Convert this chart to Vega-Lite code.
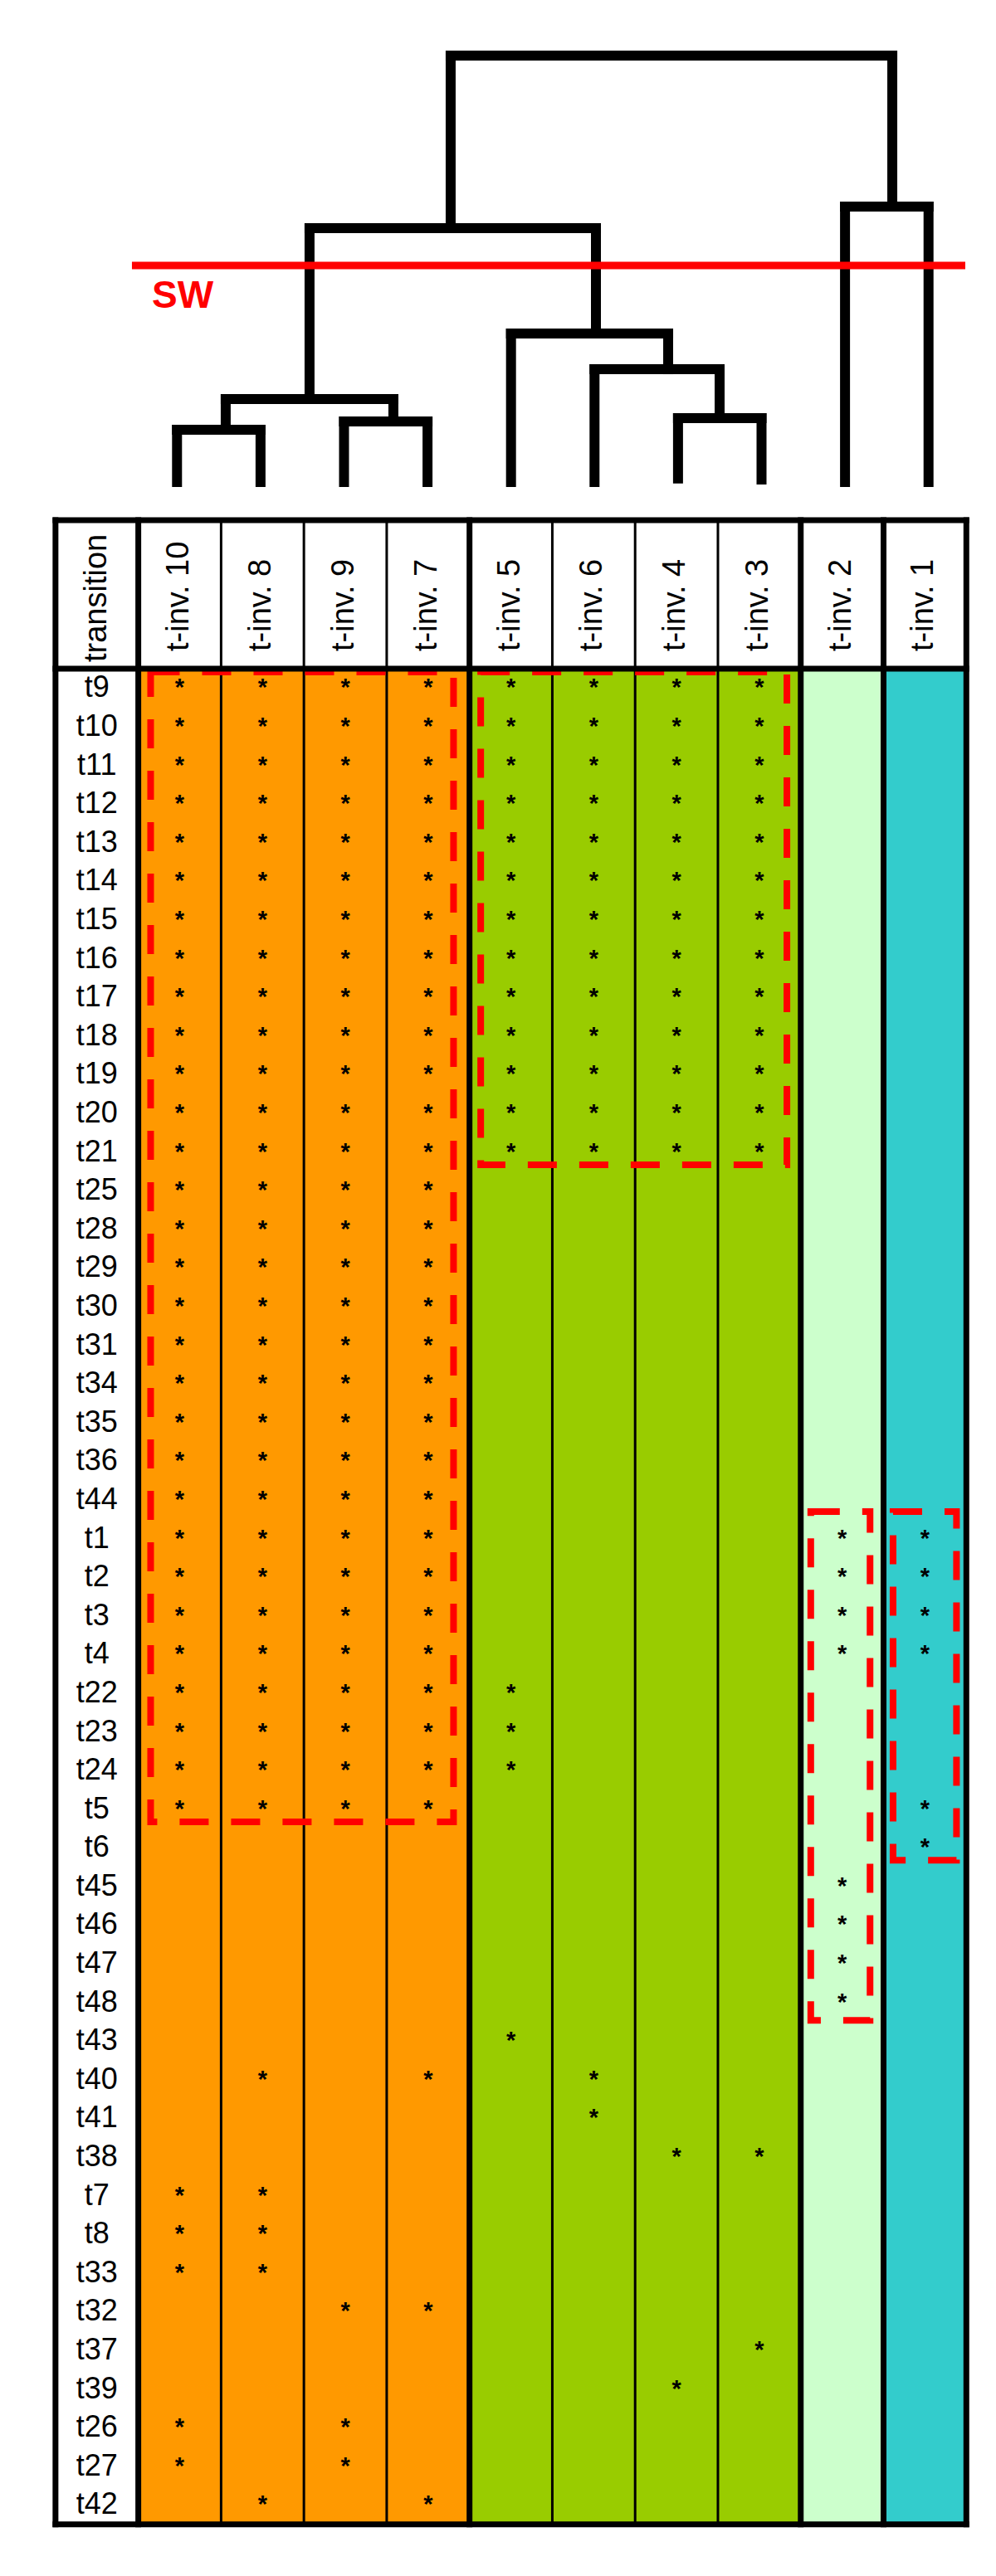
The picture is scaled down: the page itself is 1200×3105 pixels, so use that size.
{
  "$schema": "https://vega.github.io/schema/vega-lite/v6.json",
  "padding": 0,
  "spacing": 0,
  "background": "white",
  "config": {"view": {"stroke": null}, "font": "Liberation Sans"},
  "datasets": {
    "cols": [
      {"col": "t-inv. 10", "pos": 1, "cluster": "I"},
      {"col": "t-inv. 8", "pos": 2, "cluster": "I"},
      {"col": "t-inv. 9", "pos": 3, "cluster": "I"},
      {"col": "t-inv. 7", "pos": 4, "cluster": "I"},
      {"col": "t-inv. 5", "pos": 5, "cluster": "II"},
      {"col": "t-inv. 6", "pos": 6, "cluster": "II"},
      {"col": "t-inv. 4", "pos": 7, "cluster": "II"},
      {"col": "t-inv. 3", "pos": 8, "cluster": "II"},
      {"col": "t-inv. 2", "pos": 9, "cluster": "III"},
      {"col": "t-inv. 1", "pos": 10, "cluster": "IV"}
    ],
    "rows": [
      {"transition": "t9", "idx": 0, "marked": ["t-inv. 10","t-inv. 8","t-inv. 9","t-inv. 7","t-inv. 5","t-inv. 6","t-inv. 4","t-inv. 3"]},
      {"transition": "t10", "idx": 1, "marked": ["t-inv. 10","t-inv. 8","t-inv. 9","t-inv. 7","t-inv. 5","t-inv. 6","t-inv. 4","t-inv. 3"]},
      {"transition": "t11", "idx": 2, "marked": ["t-inv. 10","t-inv. 8","t-inv. 9","t-inv. 7","t-inv. 5","t-inv. 6","t-inv. 4","t-inv. 3"]},
      {"transition": "t12", "idx": 3, "marked": ["t-inv. 10","t-inv. 8","t-inv. 9","t-inv. 7","t-inv. 5","t-inv. 6","t-inv. 4","t-inv. 3"]},
      {"transition": "t13", "idx": 4, "marked": ["t-inv. 10","t-inv. 8","t-inv. 9","t-inv. 7","t-inv. 5","t-inv. 6","t-inv. 4","t-inv. 3"]},
      {"transition": "t14", "idx": 5, "marked": ["t-inv. 10","t-inv. 8","t-inv. 9","t-inv. 7","t-inv. 5","t-inv. 6","t-inv. 4","t-inv. 3"]},
      {"transition": "t15", "idx": 6, "marked": ["t-inv. 10","t-inv. 8","t-inv. 9","t-inv. 7","t-inv. 5","t-inv. 6","t-inv. 4","t-inv. 3"]},
      {"transition": "t16", "idx": 7, "marked": ["t-inv. 10","t-inv. 8","t-inv. 9","t-inv. 7","t-inv. 5","t-inv. 6","t-inv. 4","t-inv. 3"]},
      {"transition": "t17", "idx": 8, "marked": ["t-inv. 10","t-inv. 8","t-inv. 9","t-inv. 7","t-inv. 5","t-inv. 6","t-inv. 4","t-inv. 3"]},
      {"transition": "t18", "idx": 9, "marked": ["t-inv. 10","t-inv. 8","t-inv. 9","t-inv. 7","t-inv. 5","t-inv. 6","t-inv. 4","t-inv. 3"]},
      {"transition": "t19", "idx": 10, "marked": ["t-inv. 10","t-inv. 8","t-inv. 9","t-inv. 7","t-inv. 5","t-inv. 6","t-inv. 4","t-inv. 3"]},
      {"transition": "t20", "idx": 11, "marked": ["t-inv. 10","t-inv. 8","t-inv. 9","t-inv. 7","t-inv. 5","t-inv. 6","t-inv. 4","t-inv. 3"]},
      {"transition": "t21", "idx": 12, "marked": ["t-inv. 10","t-inv. 8","t-inv. 9","t-inv. 7","t-inv. 5","t-inv. 6","t-inv. 4","t-inv. 3"]},
      {"transition": "t25", "idx": 13, "marked": ["t-inv. 10","t-inv. 8","t-inv. 9","t-inv. 7"]},
      {"transition": "t28", "idx": 14, "marked": ["t-inv. 10","t-inv. 8","t-inv. 9","t-inv. 7"]},
      {"transition": "t29", "idx": 15, "marked": ["t-inv. 10","t-inv. 8","t-inv. 9","t-inv. 7"]},
      {"transition": "t30", "idx": 16, "marked": ["t-inv. 10","t-inv. 8","t-inv. 9","t-inv. 7"]},
      {"transition": "t31", "idx": 17, "marked": ["t-inv. 10","t-inv. 8","t-inv. 9","t-inv. 7"]},
      {"transition": "t34", "idx": 18, "marked": ["t-inv. 10","t-inv. 8","t-inv. 9","t-inv. 7"]},
      {"transition": "t35", "idx": 19, "marked": ["t-inv. 10","t-inv. 8","t-inv. 9","t-inv. 7"]},
      {"transition": "t36", "idx": 20, "marked": ["t-inv. 10","t-inv. 8","t-inv. 9","t-inv. 7"]},
      {"transition": "t44", "idx": 21, "marked": ["t-inv. 10","t-inv. 8","t-inv. 9","t-inv. 7"]},
      {"transition": "t1", "idx": 22, "marked": ["t-inv. 10","t-inv. 8","t-inv. 9","t-inv. 7","t-inv. 2","t-inv. 1"]},
      {"transition": "t2", "idx": 23, "marked": ["t-inv. 10","t-inv. 8","t-inv. 9","t-inv. 7","t-inv. 2","t-inv. 1"]},
      {"transition": "t3", "idx": 24, "marked": ["t-inv. 10","t-inv. 8","t-inv. 9","t-inv. 7","t-inv. 2","t-inv. 1"]},
      {"transition": "t4", "idx": 25, "marked": ["t-inv. 10","t-inv. 8","t-inv. 9","t-inv. 7","t-inv. 2","t-inv. 1"]},
      {"transition": "t22", "idx": 26, "marked": ["t-inv. 10","t-inv. 8","t-inv. 9","t-inv. 7","t-inv. 5"]},
      {"transition": "t23", "idx": 27, "marked": ["t-inv. 10","t-inv. 8","t-inv. 9","t-inv. 7","t-inv. 5"]},
      {"transition": "t24", "idx": 28, "marked": ["t-inv. 10","t-inv. 8","t-inv. 9","t-inv. 7","t-inv. 5"]},
      {"transition": "t5", "idx": 29, "marked": ["t-inv. 10","t-inv. 8","t-inv. 9","t-inv. 7","t-inv. 1"]},
      {"transition": "t6", "idx": 30, "marked": ["t-inv. 1"]},
      {"transition": "t45", "idx": 31, "marked": ["t-inv. 2"]},
      {"transition": "t46", "idx": 32, "marked": ["t-inv. 2"]},
      {"transition": "t47", "idx": 33, "marked": ["t-inv. 2"]},
      {"transition": "t48", "idx": 34, "marked": ["t-inv. 2"]},
      {"transition": "t43", "idx": 35, "marked": ["t-inv. 5"]},
      {"transition": "t40", "idx": 36, "marked": ["t-inv. 8","t-inv. 7","t-inv. 6"]},
      {"transition": "t41", "idx": 37, "marked": ["t-inv. 6"]},
      {"transition": "t38", "idx": 38, "marked": ["t-inv. 4","t-inv. 3"]},
      {"transition": "t7", "idx": 39, "marked": ["t-inv. 10","t-inv. 8"]},
      {"transition": "t8", "idx": 40, "marked": ["t-inv. 10","t-inv. 8"]},
      {"transition": "t33", "idx": 41, "marked": ["t-inv. 10","t-inv. 8"]},
      {"transition": "t32", "idx": 42, "marked": ["t-inv. 9","t-inv. 7"]},
      {"transition": "t37", "idx": 43, "marked": ["t-inv. 3"]},
      {"transition": "t39", "idx": 44, "marked": ["t-inv. 4"]},
      {"transition": "t26", "idx": 45, "marked": ["t-inv. 10","t-inv. 9"]},
      {"transition": "t27", "idx": 46, "marked": ["t-inv. 10","t-inv. 9"]},
      {"transition": "t42", "idx": 47, "marked": ["t-inv. 8","t-inv. 7"]}
    ],
    "dendro": [
      {"x": 1, "x2": 1, "h": 0, "h2": 1.212},
      {"x": 2, "x2": 2, "h": 0, "h2": 1.212},
      {"x": 3, "x2": 3, "h": 0, "h2": 1.404},
      {"x": 4, "x2": 4, "h": 0, "h2": 1.404},
      {"x": 5, "x2": 5, "h": 0, "h2": 3.442},
      {"x": 6, "x2": 6, "h": 0, "h2": 2.615},
      {"x": 7, "x2": 7, "h": 0.08, "h2": 1.481},
      {"x": 8, "x2": 8, "h": 0.06, "h2": 1.481},
      {"x": 9, "x2": 9, "h": 0, "h2": 6.385},
      {"x": 10, "x2": 10, "h": 0, "h2": 6.385},
      {"x": 1, "x2": 2, "h": 1.212, "h2": 1.212},
      {"x": 3, "x2": 4, "h": 1.404, "h2": 1.404},
      {"x": 1.583, "x2": 3.591, "h": 1.923, "h2": 1.923},
      {"x": 7, "x2": 8, "h": 1.481, "h2": 1.481},
      {"x": 6, "x2": 7.498, "h": 2.615, "h2": 2.615},
      {"x": 5, "x2": 6.882, "h": 3.442, "h2": 3.442},
      {"x": 2.587, "x2": 6.017, "h": 5.885, "h2": 5.885},
      {"x": 9, "x2": 10, "h": 6.385, "h2": 6.385},
      {"x": 4.277, "x2": 9.566, "h": 9.885, "h2": 9.885},
      {"x": 1.583, "x2": 1.583, "h": 1.212, "h2": 1.923},
      {"x": 3.591, "x2": 3.591, "h": 1.404, "h2": 1.923},
      {"x": 2.587, "x2": 2.587, "h": 1.923, "h2": 5.885},
      {"x": 7.498, "x2": 7.498, "h": 1.481, "h2": 2.615},
      {"x": 6.882, "x2": 6.882, "h": 2.615, "h2": 3.442},
      {"x": 6.017, "x2": 6.017, "h": 3.442, "h2": 5.885},
      {"x": 4.277, "x2": 4.277, "h": 5.885, "h2": 9.885},
      {"x": 9.566, "x2": 9.566, "h": 6.385, "h2": 9.885}
    ],
    "cut": [{"label": "SW", "h": 5.019}],
    "boxes": [
      {"group": "t-inv. 10-7", "x": 0.649, "x2": 4.307, "y": -0.414, "y2": 29.33},
      {"group": "t-inv. 5-3", "x": 4.635, "x2": 8.333, "y": -0.414, "y2": 12.33},
      {"group": "t-inv. 2", "x": 8.621, "x2": 9.337, "y": 21.3, "y2": 34.46},
      {"group": "t-inv. 1", "x": 9.615, "x2": 10.381, "y": 21.3, "y2": 30.32}
    ]
  },
  "resolve": {"scale": {"x": "independent", "y": "independent"}},
  "vconcat": [
    {
      "width": 1200,
      "height": 600,
      "layer": [
        {
          "data": {"name": "dendro"},
          "mark": {"type": "rule", "color": "black", "strokeWidth": 12, "strokeCap": "square"},
          "encoding": {
            "x": {"field": "x", "type": "quantitative", "scale": {"domain": [-1.12, 10.808], "nice": false, "zero": false}, "axis": null},
            "x2": {"field": "x2"},
            "y": {"field": "h", "type": "quantitative", "scale": {"domain": [-0.365, 11.173], "nice": false, "zero": false}, "axis": null},
            "y2": {"field": "h2"}
          }
        },
        {
          "data": {"name": "cut"},
          "mark": {"type": "rule", "color": "#FF0000", "strokeWidth": 9},
          "encoding": {
            "x": {"datum": 0.46, "type": "quantitative", "scale": {"domain": [-1.12, 10.808], "nice": false, "zero": false}, "axis": null},
            "x2": {"datum": 10.44},
            "y": {"field": "h", "type": "quantitative", "scale": {"domain": [-0.365, 11.173], "nice": false, "zero": false}, "axis": null}
          }
        },
        {
          "data": {"name": "cut"},
          "mark": {"type": "text", "color": "#FF0000", "fontSize": 46, "fontWeight": "bold", "align": "left", "baseline": "alphabetic", "dy": 51},
          "encoding": {
            "x": {"datum": 0.7, "type": "quantitative", "scale": {"domain": [-1.12, 10.808], "nice": false, "zero": false}, "axis": null},
            "y": {"field": "h", "type": "quantitative", "scale": {"domain": [-0.365, 11.173], "nice": false, "zero": false}, "axis": null},
            "text": {"field": "label"}
          }
        }
      ]
    },
    {
      "width": 1200,
      "height": 2505,
      "layer": [
        {
          "data": {"name": "cols"},
          "mark": {"type": "bar", "width": 100.6},
          "encoding": {
            "x": {"field": "pos", "type": "quantitative", "scale": {"domain": [-1.12, 10.808], "nice": false, "zero": false}, "axis": null},
            "y": {"datum": -0.5, "type": "quantitative", "scale": {"domain": [-4.921, 48.835], "reverse": true, "nice": false, "zero": false}, "axis": null},
            "y2": {"datum": 47.5},
            "color": {"field": "cluster", "type": "nominal", "scale": {"domain": ["I", "II", "III", "IV"], "range": ["#FF9900", "#99CC00", "#CCFFCC", "#33CCCC"]}, "legend": null}
          }
        },
        {
          "data": {"values": [{"b": 1.5}, {"b": 2.5}, {"b": 3.5}, {"b": 5.5}, {"b": 6.5}, {"b": 7.5}]},
          "mark": {"type": "rule", "color": "black", "strokeWidth": 3},
          "encoding": {
            "x": {"field": "b", "type": "quantitative", "scale": {"domain": [-1.12, 10.808], "nice": false, "zero": false}, "axis": null},
            "y": {"datum": -4.341, "type": "quantitative", "scale": {"domain": [-4.921, 48.835], "reverse": true, "nice": false, "zero": false}, "axis": null},
            "y2": {"datum": 47.5}
          }
        },
        {
          "data": {"name": "rows"},
          "transform": [
            {"flatten": ["marked"], "as": ["col"]},
            {"lookup": "col", "from": {"data": {"name": "cols"}, "key": "col", "fields": ["pos"]}}
          ],
          "mark": {"type": "text", "text": "*", "fontSize": 29, "fontWeight": "bold", "align": "center", "baseline": "middle", "color": "black"},
          "encoding": {
            "x": {"field": "pos", "type": "quantitative", "scale": {"domain": [-1.12, 10.808], "nice": false, "zero": false}, "axis": null},
            "y": {"field": "idx", "type": "quantitative", "scale": {"domain": [-4.921, 48.835], "reverse": true, "nice": false, "zero": false}, "axis": null}
          }
        },
        {
          "data": {"name": "boxes"},
          "mark": {"type": "rect", "fill": "transparent", "stroke": "#FF0000", "strokeWidth": 8, "strokeDash": [35, 27]},
          "encoding": {
            "x": {"field": "x", "type": "quantitative", "scale": {"domain": [-1.12, 10.808], "nice": false, "zero": false}, "axis": null},
            "x2": {"field": "x2"},
            "y": {"field": "y", "type": "quantitative", "scale": {"domain": [-4.921, 48.835], "reverse": true, "nice": false, "zero": false}, "axis": null},
            "y2": {"field": "y2"}
          }
        },
        {
          "data": {"values": [{"b": -0.5}, {"b": 0.5}, {"b": 4.5}, {"b": 8.5}, {"b": 9.5}, {"b": 10.5}]},
          "mark": {"type": "rule", "color": "black", "strokeWidth": 7, "strokeCap": "square"},
          "encoding": {
            "x": {"field": "b", "type": "quantitative", "scale": {"domain": [-1.12, 10.808], "nice": false, "zero": false}, "axis": null},
            "y": {"datum": -4.341, "type": "quantitative", "scale": {"domain": [-4.921, 48.835], "reverse": true, "nice": false, "zero": false}, "axis": null},
            "y2": {"datum": 47.5}
          }
        },
        {
          "data": {"values": [{"b": -4.341}, {"b": -0.5}, {"b": 47.5}]},
          "mark": {"type": "rule", "color": "black", "strokeWidth": 7, "strokeCap": "square"},
          "encoding": {
            "y": {"field": "b", "type": "quantitative", "scale": {"domain": [-4.921, 48.835], "reverse": true, "nice": false, "zero": false}, "axis": null},
            "x": {"datum": -0.5, "type": "quantitative", "scale": {"domain": [-1.12, 10.808], "nice": false, "zero": false}, "axis": null},
            "x2": {"datum": 10.5}
          }
        },
        {
          "data": {"name": "rows"},
          "mark": {"type": "text", "fontSize": 36, "align": "center", "baseline": "middle", "color": "black"},
          "encoding": {
            "x": {"datum": 0, "type": "quantitative", "scale": {"domain": [-1.12, 10.808], "nice": false, "zero": false}, "axis": null},
            "y": {"field": "idx", "type": "quantitative", "scale": {"domain": [-4.921, 48.835], "reverse": true, "nice": false, "zero": false}, "axis": null},
            "text": {"field": "transition"}
          }
        },
        {
          "data": {"name": "cols"},
          "mark": {"type": "text", "fontSize": 38, "angle": 270, "align": "left", "baseline": "alphabetic", "dy": 10, "color": "black"},
          "encoding": {
            "x": {"field": "pos", "type": "quantitative", "scale": {"domain": [-1.12, 10.808], "nice": false, "zero": false}, "axis": null},
            "y": {"datum": -0.951, "type": "quantitative", "scale": {"domain": [-4.921, 48.835], "reverse": true, "nice": false, "zero": false}, "axis": null},
            "text": {"field": "col"}
          }
        },
        {
          "data": {"values": [{"label": "transition"}]},
          "mark": {"type": "text", "fontSize": 38, "angle": 270, "align": "left", "baseline": "alphabetic", "dy": 11, "color": "black"},
          "encoding": {
            "x": {"datum": 0, "type": "quantitative", "scale": {"domain": [-1.12, 10.808], "nice": false, "zero": false}, "axis": null},
            "y": {"datum": -0.672, "type": "quantitative", "scale": {"domain": [-4.921, 48.835], "reverse": true, "nice": false, "zero": false}, "axis": null},
            "text": {"field": "label"}
          }
        }
      ]
    }
  ]
}
